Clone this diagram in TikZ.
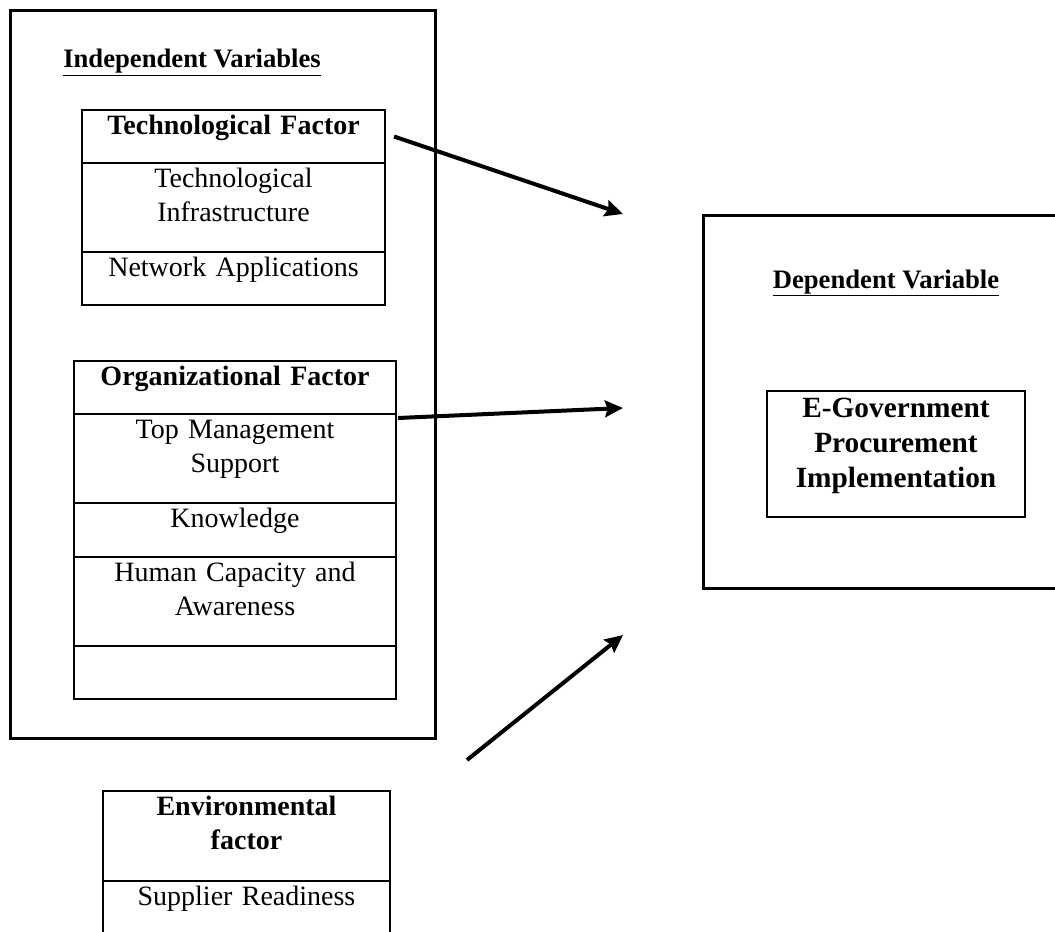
\documentclass[tikz,border=0pt]{standalone}
\usepackage{fontspec}
\setmainfont{Liberation Serif}
\usepackage{tikz}
\usetikzlibrary{arrows.meta, positioning}

\newcommand{\cellfont}{\fontsize{21pt}{26pt}\selectfont}

\begin{document}
\begin{tikzpicture}[
    x=0.75pt, y=-0.75pt,
    panel/.style={draw, line width=2.25pt, outer sep=0pt, inner sep=0pt, anchor=north west},
    cell/.style={draw, line width=1.5pt, outer sep=0pt, inner xsep=0pt, inner ysep=3pt, align=center, text height=15pt, font=\cellfont},
    short/.style={cell, text depth=18.75pt},
    tall/.style={cell, text depth=45.75pt},
    head/.style={font=\cellfont\bfseries},
    title/.style={font=\fontsize{20pt}{26pt}\selectfont\bfseries, inner sep=0pt},
    arrow/.style={line width=3pt, ->, >={Stealth[length=13.5pt, width=12.5pt, inset=2pt]}}
]
    \useasboundingbox (0,0) rectangle (1055,931);
    \clip (0,0) rectangle (1055,931);

    % Panels
    \node (indep) [panel, minimum width=318.75pt, minimum height=545.25pt] at (10,11) {};
    \node (dep) [panel, minimum width=275.25pt, minimum height=279.75pt] at (703,215) {};

    \node (indeptitle) [title, anchor=base west] at (63,68) {\underline{Independent Variables}};
    \node (deptitle) [title, anchor=base] at (886,288) {\underline{Dependent Variable}};

    % Technological factor
    \node (techhead) [short, head, text width=227.25pt, anchor=north west] at (82,110) {Technological Factor};
    \node (techinfra) [tall, text width=227.25pt, below=0pt of techhead] {Technological\\Infrastructure};
    \node (technet) [short, text width=227.25pt, below=0pt of techinfra] {Network Applications};

    % Organizational factor
    \node (orghead) [short, head, text width=241.5pt, anchor=north west] at (74,361) {Organizational Factor};
    \node (orgtop) [tall, text width=241.5pt, below=0pt of orghead] {Top Management\\Support};
    \node (orgknow) [short, text depth=19.5pt, text width=241.5pt, below=0pt of orgtop] {Knowledge};
    \node (orghuman) [tall, text width=241.5pt, below=0pt of orgknow] {Human Capacity and\\Awareness};
    \node (orgempty) [short, text width=241.5pt, below=0pt of orghuman] {};

    % Environmental factor
    \node (envhead) [cell, head, text depth=46.5pt, text width=215.25pt, anchor=north west] at (103,791) {Environmental\\factor};
    \node (envsupp) [short, text width=215.25pt, below=0pt of envhead] {Supplier Readiness};

    % Dependent variable
    \node (egov) [cell, text width=193.5pt, text height=16.5pt, text depth=72pt, font=\fontsize{22pt}{26.5pt}\selectfont\bfseries, anchor=north west] at (767,391) {E-Government\\Procurement\\Implementation};

    % Flows
    \coordinate (tip1) at (623,214);
    \coordinate (tip2) at (623,408);
    \coordinate (tip3) at (623,635);
    \coordinate (tail3) at (467,760);
    \draw [arrow] ([xshift=6.75pt]techhead.east) -- (tip1);
    \draw [arrow] ([xshift=1.5pt, yshift=-3pt]orghead.south east) -- (tip2);
    \draw [arrow] (tail3) -- (tip3);

\end{tikzpicture}
\end{document}
